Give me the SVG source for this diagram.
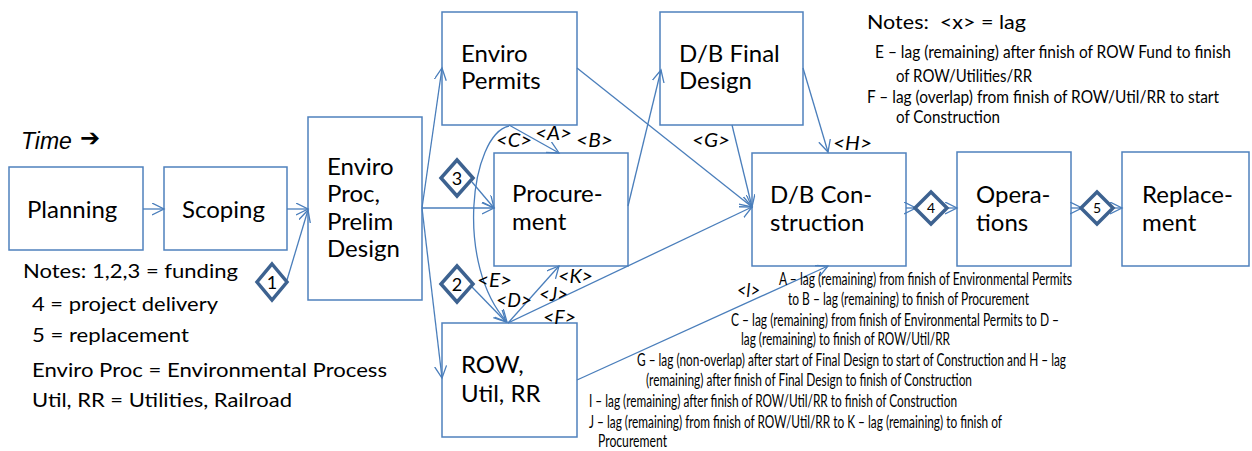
<svg xmlns="http://www.w3.org/2000/svg" width="1252" height="451" viewBox="0 0 1252 451">
<defs>
<marker id="arr" markerUnits="userSpaceOnUse" markerWidth="14" markerHeight="14" refX="12" refY="6" orient="auto">
<path d="M0,0 L12,6 L0,12" fill="none" stroke="#4A7EBB" stroke-width="1.3"/>
</marker>
<style>
.box{fill:#fff;stroke:#4F81BD;stroke-width:1.5}
.lbl{font-family:Lato,"Liberation Sans",sans-serif;font-size:24px;fill:#000}
.con{fill:none;stroke:#4A7EBB;stroke-width:1.3;marker-end:url(#arr)}
.dia{fill:#fff;stroke:#3D6290;stroke-width:3.5;stroke-linejoin:miter}
.dnum{font-family:Lato,"Liberation Sans",sans-serif;font-size:18px;fill:#000;text-anchor:middle}
.dnum2{font-family:Lato,"Liberation Sans",sans-serif;font-size:14px;fill:#000;text-anchor:middle}
.lag{font-family:Lato,"Liberation Sans",sans-serif;font-style:italic;font-size:20px;fill:#000}
.note{font-family:Lato,"Liberation Sans",sans-serif;font-size:20px;fill:#000}
.sm{font-family:Lato,"Liberation Sans",sans-serif;font-size:17px;fill:#000}
</style>
</defs>
<rect width="1252" height="451" fill="#fff"/>

<g id="time">
<text x="21" y="149" font-family="'Liberation Sans',Arial,sans-serif" font-style="italic" font-size="23">Time</text>
<text x="80" y="146" font-family="'DejaVu Sans',sans-serif" font-size="24" font-weight="bold">➔</text>
</g>

<g id="planning"><rect class="box" x="9" y="167" width="134" height="83"/><text class="lbl" x="27" y="218">Planning</text></g>
<g id="scoping"><rect class="box" x="164" y="167" width="123" height="83"/><text class="lbl" x="182" y="218">Scoping</text></g>
<g id="enviro-proc"><rect class="box" x="308" y="117" width="114" height="183"/>
<text class="lbl" x="327" y="175">Enviro</text><text class="lbl" x="327" y="202">Proc,</text><text class="lbl" x="327" y="230">Prelim</text><text class="lbl" x="327" y="257">Design</text></g>
<g id="enviro-permits"><rect class="box" x="442" y="12" width="135" height="113"/><text class="lbl" x="461" y="62">Enviro</text><text class="lbl" x="461" y="89">Permits</text></g>
<g id="procurement"><rect class="box" x="494" y="153" width="134" height="113"/><text class="lbl" x="512" y="202">Procure-</text><text class="lbl" x="512" y="230">ment</text></g>
<g id="row"><rect class="box" x="442" y="323" width="135" height="114"/><text class="lbl" x="461" y="373">ROW,</text><text class="lbl" x="461" y="402">Util, RR</text></g>
<g id="final-design"><rect class="box" x="660" y="12" width="143" height="113"/><text class="lbl" x="679" y="62">D/B Final</text><text class="lbl" x="679" y="89">Design</text></g>
<g id="construction"><rect class="box" x="752" y="153" width="154" height="113"/><text class="lbl" x="770" y="203">D/B Con-</text><text class="lbl" x="770" y="231">struction</text></g>
<g id="operations"><rect class="box" x="957" y="152" width="114" height="114"/><text class="lbl" x="976" y="203">Opera-</text><text class="lbl" x="976" y="231">tions</text></g>
<g id="replacement"><rect class="box" x="1122" y="152" width="127" height="114"/><text class="lbl" x="1142" y="203">Replace-</text><text class="lbl" x="1142" y="231">ment</text></g>

<g id="connectors">
<line class="con" x1="143" y1="209" x2="164" y2="209"/>
<line class="con" x1="287" y1="209" x2="308" y2="209"/>
<line class="con" x1="287" y1="280" x2="308" y2="210"/>
<line class="con" x1="422" y1="208" x2="442" y2="68"/>
<line class="con" x1="422" y1="208" x2="494" y2="208"/>
<line class="con" x1="422" y1="208" x2="442" y2="378"/>
<line class="con" x1="472" y1="182" x2="494" y2="208"/>
<line class="con" x1="472" y1="287" x2="506" y2="322"/>
<line class="con" x1="509" y1="125" x2="559" y2="153"/>
<path class="con" d="M509,126 C470,135 455,265 507,322"/>
<line class="con" x1="508" y1="323" x2="559" y2="266"/>
<line class="con" x1="508" y1="323" x2="752" y2="207"/>
<line class="con" x1="577" y1="68" x2="752" y2="207"/>
<line class="con" x1="732" y1="125" x2="752" y2="207"/>
<line class="con" x1="628" y1="206" x2="661" y2="70"/>
<line class="con" x1="803" y1="68" x2="828" y2="152"/>
<line class="con" x1="577" y1="380" x2="828" y2="266"/>
<line class="con" x1="906" y1="208" x2="916" y2="208"/>
<line class="con" x1="947" y1="208" x2="957" y2="208"/>
<line class="con" x1="1071" y1="208" x2="1082" y2="208"/>
<line class="con" x1="1112" y1="208" x2="1122" y2="208"/>
</g>

<g id="diamond-1"><polygon class="dia" points="272,264 287,282 272,300 257,282"/><text class="dnum" x="272" y="289">1</text></g>
<g id="diamond-3"><polygon class="dia" points="457,160 473,178 457,196 441,178"/><text class="dnum" x="457" y="185">3</text></g>
<g id="diamond-2"><polygon class="dia" points="457,266 473,284 457,302 441,284"/><text class="dnum" x="457" y="291">2</text></g>
<g id="diamond-4"><polygon class="dia" points="931,192 947,208 931,224 915,208"/><text class="dnum2" x="931" y="213">4</text></g>
<g id="diamond-5"><polygon class="dia" points="1097,192 1113,208 1097,224 1081,208"/><text class="dnum2" x="1097" y="213">5</text></g>

<g id="lag-labels">
<text class="lag" x="535" y="140" textLength="37" lengthAdjust="spacingAndGlyphs">&lt;A&gt;</text>
<text class="lag" x="496" y="147" textLength="36" lengthAdjust="spacingAndGlyphs">&lt;C&gt;</text>
<text class="lag" x="576" y="147" textLength="37" lengthAdjust="spacingAndGlyphs">&lt;B&gt;</text>
<text class="lag" x="692" y="147" textLength="38" lengthAdjust="spacingAndGlyphs">&lt;G&gt;</text>
<text class="lag" x="833" y="150" textLength="39" lengthAdjust="spacingAndGlyphs">&lt;H&gt;</text>
<text class="lag" x="477" y="287" textLength="35" lengthAdjust="spacingAndGlyphs">&lt;E&gt;</text>
<text class="lag" x="496" y="307" textLength="36" lengthAdjust="spacingAndGlyphs">&lt;D&gt;</text>
<text class="lag" x="558" y="283" textLength="35" lengthAdjust="spacingAndGlyphs">&lt;K&gt;</text>
<text class="lag" x="539" y="301" textLength="29" lengthAdjust="spacingAndGlyphs">&lt;J&gt;</text>
<text class="lag" x="543" y="324" textLength="33" lengthAdjust="spacingAndGlyphs">&lt;F&gt;</text>
<text class="lag" x="737" y="297" textLength="23" lengthAdjust="spacingAndGlyphs">&lt;I&gt;</text>
</g>

<g id="notes-left">
<text class="note" x="23" y="278" textLength="215" lengthAdjust="spacingAndGlyphs">Notes: 1,2,3 = funding</text>
<text class="note" x="32" y="311" textLength="186" lengthAdjust="spacingAndGlyphs">4 = project delivery</text>
<text class="note" x="32" y="342" textLength="157" lengthAdjust="spacingAndGlyphs">5 = replacement</text>
<text class="note" x="32" y="377" textLength="355" lengthAdjust="spacingAndGlyphs">Enviro Proc = Environmental Process</text>
<text class="note" x="32" y="407" textLength="260" lengthAdjust="spacingAndGlyphs">Util, RR = Utilities, Railroad</text>
</g>

<g id="notes-top">
<text class="note" x="867" y="29" font-size="21" textLength="159" lengthAdjust="spacingAndGlyphs" xml:space="preserve">Notes:  &lt;x&gt; = lag</text>
<text class="sm" x="875" y="58" textLength="356" lengthAdjust="spacingAndGlyphs">E – lag (remaining) after finish of ROW Fund to finish</text>
<text class="sm" x="896" y="82" textLength="136" lengthAdjust="spacingAndGlyphs">of ROW/Utilities/RR</text>
<text class="sm" x="867" y="103" textLength="352" lengthAdjust="spacingAndGlyphs">F – lag (overlap) from finish of ROW/Util/RR to start</text>
<text class="sm" x="896" y="123" textLength="104" lengthAdjust="spacingAndGlyphs">of Construction</text>
</g>

<g id="notes-bottom">
<text class="sm" x="779" y="285" textLength="293" lengthAdjust="spacingAndGlyphs">A – lag (remaining) from finish of Environmental Permits</text>
<text class="sm" x="788" y="305" textLength="241" lengthAdjust="spacingAndGlyphs">to B – lag (remaining) to finish of Procurement</text>
<text class="sm" x="731" y="326" textLength="328" lengthAdjust="spacingAndGlyphs">C – lag (remaining) from finish of Environmental Permits to D –</text>
<text class="sm" x="741" y="345" textLength="209" lengthAdjust="spacingAndGlyphs">lag (remaining) to finish of ROW/Util/RR</text>
<text class="sm" x="637" y="366" textLength="429" lengthAdjust="spacingAndGlyphs">G – lag (non-overlap) after start of Final Design to start of Construction and H – lag</text>
<text class="sm" x="646" y="386" textLength="326" lengthAdjust="spacingAndGlyphs">(remaining) after finish of Final Design to finish of Construction</text>
<text class="sm" x="589" y="407" textLength="368" lengthAdjust="spacingAndGlyphs">I – lag (remaining) after finish of ROW/Util/RR to finish of Construction</text>
<text class="sm" x="589" y="428" textLength="413" lengthAdjust="spacingAndGlyphs">J – lag (remaining) from finish of ROW/Util/RR to K – lag (remaining) to finish of</text>
<text class="sm" x="598" y="447" textLength="69" lengthAdjust="spacingAndGlyphs">Procurement</text>
</g>
</svg>
